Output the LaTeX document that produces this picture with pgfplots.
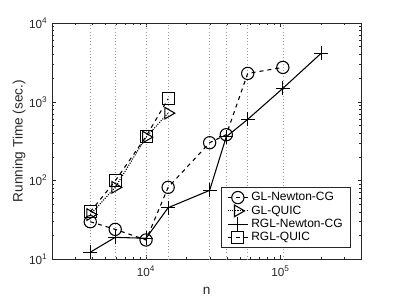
\documentclass[border=0pt]{standalone}
\usepackage{pgfplots}
\pgfplotsset{compat=1.18}
\usepackage{fontspec}
\setmainfont{Liberation Sans}
\definecolor{axgray}{gray}{0.15}
\definecolor{gridgray}{gray}{0.6}
\begin{document}
\begin{tikzpicture}
\begin{axis}[
  xmode=log, ymode=log,
  scale only axis,
  width=232.1pt, height=177.2pt,
  xmin=2000, xmax=400000,
  ymin=10, ymax=10000,
  axis line style={axgray, line width=0.5pt},
  every tick/.style={axgray, line width=0.4pt},
  tick align=inside,
  major tick length=3pt, minor tick length=1.8pt,
  xtick={10000,100000},
  xticklabels={10\textsuperscript{4},10\textsuperscript{5}},
  minor xtick={3000,4000,5000,6000,7000,8000,9000,20000,30000,40000,50000,60000,70000,80000,90000,200000,300000},
  ytick={10,100,1000,10000},
  yticklabels={10\textsuperscript{1},10\textsuperscript{2},10\textsuperscript{3},10\textsuperscript{4}},
  minor ytick={20,30,40,50,60,70,80,90,200,300,400,500,600,700,800,900,2000,3000,4000,5000,6000,7000,8000,9000},
  extra x ticks={3850,5900,10000,14600,29700,39500,57000,104000},
  extra x tick labels={},
  extra x tick style={grid=major, major tick length=0pt, major grid style={gridgray, dotted, line width=0.5pt}},
  ticklabel style={font=\fontsize{8.8}{10}\selectfont, text=axgray},
  xticklabel style={yshift=-1pt},
  xlabel={n}, ylabel={Running Time (sec.)},
  label style={font=\fontsize{10.2}{12}\selectfont, text=axgray},
  xlabel style={at={(axis description cs:0.5,-0.135)}, anchor=center},
  ylabel style={at={(axis description cs:-0.1066,0.5)}, anchor=center},
  legend style={at={(rel axis cs:1,0)}, anchor=south east, xshift=-7.9pt, yshift=8.7pt,
    draw=axgray, line width=0.5pt, font=\fontsize{9}{10}\selectfont, text=black,
    row sep=-1.8pt, inner xsep=4pt, inner ysep=1.5pt},
  legend cell align=left,
  legend image code/.code={\draw[mark repeat=2,mark phase=2] plot coordinates {(0cm,0cm) (0.27cm,0cm) (0.54cm,0cm)};},
]
\addplot[black, line width=0.8pt, dashed, mark=o, mark size=4.6pt, mark options={solid}]
  coordinates {(3850,30) (5900,24) (10000,17.6) (14600,82) (29700,302) (39500,382) (57000,2290) (104000,2730)};
\addlegendentry{GL-Newton-CG}
\addplot[black, line width=0.8pt, densely dotted, mark=triangle, mark size=5pt, mark options={solid, rotate=-90}]
  coordinates {(3850,37) (5900,82) (10000,356) (14600,717)};
\addlegendentry{GL-QUIC}
\addplot[black, line width=0.8pt, solid, mark=+, mark size=5.2pt]
  coordinates {(3850,12.3) (5900,19) (10000,18.5) (14600,45.2) (29700,75) (39500,360) (57000,598) (104000,1480) (200000,4115)};
\addlegendentry{RGL-Newton-CG}
\addplot[black, line width=0.8pt, dashed, mark=square, mark size=4.5pt, mark options={solid}]
  coordinates {(3850,40) (5900,99) (10000,362) (14600,1092)};
\addlegendentry{RGL-QUIC}
\end{axis}
\pgfresetboundingbox
\path (-39pt,-29.8pt) rectangle (260.2pt,194.45pt);
\end{tikzpicture}
\end{document}
